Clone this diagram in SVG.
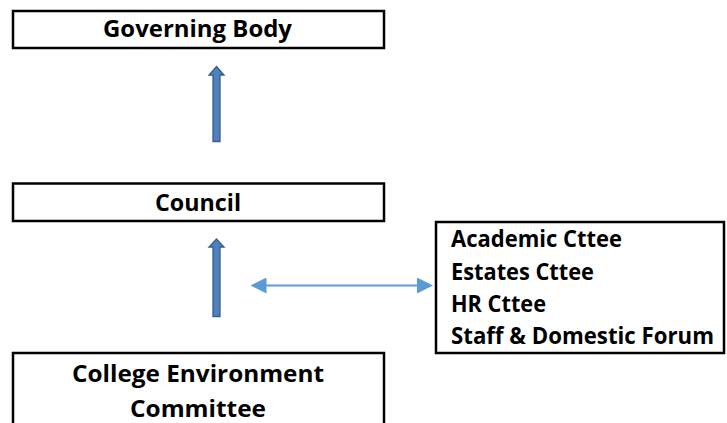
<svg xmlns="http://www.w3.org/2000/svg" width="727" height="423" viewBox="0 0 727 423">
  <style>
    .box { fill: #ffffff; stroke: #000000; stroke-width: 2.5; }
    .lbl { font-family: "Open Sans", "Liberation Sans", sans-serif; font-weight: bold; font-size: 23px; fill: #000000; }
    .mid { text-anchor: middle; }
    .block { fill: #4f81bd; stroke: #385d8a; stroke-width: 1.3; }
    .link { stroke: #5b9bd5; stroke-width: 2; fill: none; }
  </style>
  <defs>
    <marker id="head" markerUnits="userSpaceOnUse" markerWidth="16" markerHeight="16" viewBox="0 0 16 16" refX="4" refY="8" orient="auto-start-reverse">
      <path d="M0,0 L16,8 L0,16 Z" fill="#5b9bd5"/>
    </marker>
  </defs>
  <rect width="727" height="423" fill="#ffffff"/>

  <g id="governing-body">
    <rect class="box" x="13" y="11" width="371" height="37"/>
    <text class="lbl mid" x="197.5" y="36.5" textLength="189" lengthAdjust="spacingAndGlyphs">Governing Body</text>
  </g>

  <g id="council">
    <rect class="box" x="13" y="183.5" width="371" height="37.5"/>
    <text class="lbl mid" x="198" y="211" textLength="86" lengthAdjust="spacingAndGlyphs">Council</text>
  </g>

  <g id="college-environment-committee">
    <rect class="box" x="13" y="353" width="371" height="80"/>
    <text class="lbl mid" x="198" y="382" textLength="252" lengthAdjust="spacingAndGlyphs">College Environment</text>
    <text class="lbl mid" x="198" y="417" textLength="136" lengthAdjust="spacingAndGlyphs">Committee</text>
  </g>

  <g id="committees">
    <rect class="box" x="436" y="222" width="288" height="131"/>
    <text class="lbl" x="451" y="247" textLength="171" lengthAdjust="spacingAndGlyphs">Academic Cttee</text>
    <text class="lbl" x="451" y="280" textLength="143" lengthAdjust="spacingAndGlyphs">Estates Cttee</text>
    <text class="lbl" x="451" y="312" textLength="95" lengthAdjust="spacingAndGlyphs">HR Cttee</text>
    <text class="lbl" x="451" y="343.5" textLength="263" lengthAdjust="spacingAndGlyphs">Staff &amp; Domestic Forum</text>
  </g>

  <g id="connectors">
    <path class="block" d="M216.5,66.5 L224,75 L220,75 L220,141.5 L213,141.5 L213,75 L209,75 Z"/>
    <path class="block" d="M216.5,239 L224,247 L220,247 L220,316.5 L213,316.5 L213,247 L209,247 Z"/>
    <line class="link" x1="262.5" y1="285.5" x2="421" y2="285.5" marker-start="url(#head)" marker-end="url(#head)"/>
  </g>
</svg>
